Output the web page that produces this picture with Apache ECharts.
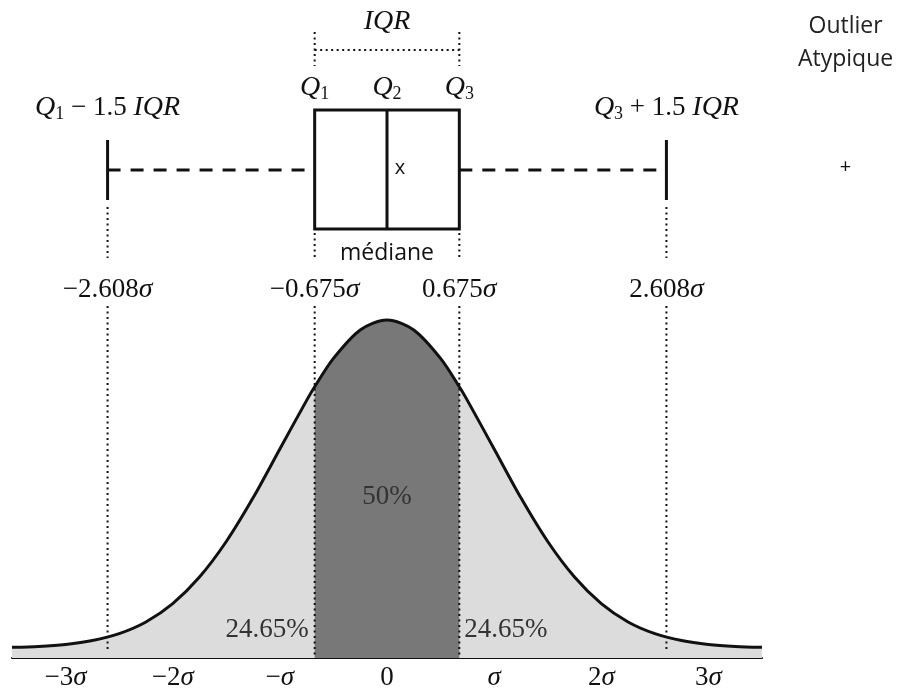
<!DOCTYPE html>
<html><head><meta charset="utf-8">
<script src="https://cdn.jsdelivr.net/npm/echarts@6/dist/echarts.min.js"></script>
<style>html,body{margin:0;padding:0;background:#fff}#c{width:900px;height:691px}</style>
</head><body><div id="c"></div>
<script>
// ---------- data ----------
const sigmaTicks = [-3, -2, -1, 0, 1, 2, 3];
const sigmaTickLabels = ['−3σ', '−2σ', '−σ', '0', 'σ', '2σ', '3σ'];
// lower whisker (Q1-1.5IQR), Q1, median Q2, Q3, upper whisker (Q3+1.5IQR)
const boxStats = [-2.608, -0.675, 0, 0.675, 2.608];
const boxStatLabels = ['−2.608', '−0.675', '0.675', '2.608'];
const meanValue = 0;
const outlierValues = [4.28];
const outlierLabels = ['Outlier', 'Atypique'];
const shareLabels = ['24.65%', '50%', '24.65%'];
// density curve (x in σ, height in density units)
const curveX = [-3.5, -3.25, -3, -2.75, -2.5, -2.25, -2, -1.75, -1.5, -1.25, -1, -0.75, -0.675, -0.5, -0.25, 0,
  0.25, 0.5, 0.675, 0.75, 1, 1.25, 1.5, 1.75, 2, 2.25, 2.5, 2.75, 3, 3.25, 3.5];
const curveY = [0.0009, 0.0020, 0.0044, 0.0091, 0.0175, 0.0317, 0.0540, 0.0863, 0.1295, 0.1826, 0.2420, 0.3011, 0.3176, 0.3521, 0.3867, 0.3989,
  0.3867, 0.3521, 0.3176, 0.3011, 0.2420, 0.1826, 0.1295, 0.0863, 0.0540, 0.0317, 0.0175, 0.0091, 0.0044, 0.0020, 0.0009];

// ---------- build ----------
const curve = curveX.map((x, i) => [x, curveY[i]]);
const centerPart = curve.filter(p => p[0] >= boxStats[1] - 1e-9 && p[0] <= boxStats[3] + 1e-9);

const SERIF = 'Liberation Serif';
const SANS = 'Open Sans';
const INK = '#111';
const FS = 27;
const qRich = {
  i: { fontFamily: SERIF, fontStyle: 'italic', fontSize: FS + 1, lineHeight: 31, fill: INK, color: INK },
  n: { fontFamily: SERIF, fontSize: FS, lineHeight: 31, fill: INK, color: INK },
  sb: { fontFamily: SERIF, fontSize: 18, verticalAlign: 'bottom', fill: INK, color: INK }
};

function txt(x, y, text, extra) {
  return {
    type: 'text', x: x, y: y, z2: 10,
    style: Object.assign({ text: text, fill: INK, align: 'center', verticalAlign: 'middle',
      fontFamily: SERIF, fontSize: FS }, extra || {})
  };
}
function seg(x1, y1, x2, y2, w, dash) {
  return { type: 'line', z2: 5, shape: { x1, y1, x2, y2 },
    style: { stroke: INK, lineWidth: w, lineDash: dash || null, fill: null } };
}

function renderAnnotations(params, api) {
  const px = v => api.coord([v, 0])[0];
  const [lw, q1, q2, q3, uw] = boxStats.map(px);
  const dot = [2, 3.5];
  const els = [];
  // IQR bracket
  els.push(txt((q1 + q3) / 2, 22, '{i|IQR}', { rich: qRich }));
  els.push(seg(q1, 50, q3, 50, 2, dot));
  els.push(seg(q1, 32, q1, 66, 2, dot));
  els.push(seg(q3, 32, q3, 66, 2, dot));
  // quartile labels
  els.push(txt(q1, 88, '{i|Q}{sb|1}', { rich: qRich }));
  els.push(txt(q2, 88, '{i|Q}{sb|2}', { rich: qRich }));
  els.push(txt(q3, 88, '{i|Q}{sb|3}', { rich: qRich }));
  // whisker labels
  els.push(txt(lw, 108, '{i|Q}{sb|1}{n| − 1.5 }{i|IQR}', { rich: qRich }));
  els.push(txt(uw, 108, '{i|Q}{sb|3}{n| + 1.5 }{i|IQR}', { rich: qRich }));
  // box
  els.push({ type: 'rect', z2: 6, shape: { x: q1, y: 110, width: q3 - q1, height: 119 },
    style: { fill: null, stroke: INK, lineWidth: 3 } });
  els.push(seg(q2, 110, q2, 229, 3));
  // mean marker
  els.push(txt(px(meanValue) + 13, 168, 'x', { fontFamily: SANS, fontSize: 20 }));
  // whiskers
  els.push(seg(lw, 170, q1, 170, 3, [13, 10]));
  els.push(seg(q3, 170, uw, 170, 3, [13, 10]));
  els.push(seg(lw, 140, lw, 200, 3));
  els.push(seg(uw, 140, uw, 200, 3));
  // dotted guides below the box plot
  els.push(seg(lw, 207, lw, 258, 2, dot));
  els.push(seg(uw, 207, uw, 258, 2, dot));
  els.push(seg(q1, 233, q1, 258, 2, dot));
  els.push(seg(q3, 233, q3, 258, 2, dot));
  els.push(txt(q2, 253, 'médiane', { fontFamily: SANS, fontSize: 23 }));
  // sigma labels
  [lw, q1, q3, uw].forEach((x, i) => {
    els.push(txt(x, 290, '{n|' + boxStatLabels[i] + '}{i|σ}', { rich: qRich }));
  });
  // dotted guides through the curve
  els.push(seg(lw, 306, lw, 650, 2, dot));
  els.push(seg(uw, 306, uw, 650, 2, dot));
  els.push(seg(q1, 306, q1, 659, 2, dot));
  els.push(seg(q3, 306, q3, 659, 2, dot));
  // area shares
  els.push(txt(q1 - 6, 630, shareLabels[0], { align: 'right', fill: '#333' }));
  els.push(txt(q2, 497, shareLabels[1], { fill: '#333' }));
  els.push(txt(q3 + 5, 630, shareLabels[2], { align: 'left', fill: '#333' }));
  // outliers
  outlierValues.forEach(v => {
    const ox = px(v);
    els.push(txt(ox, 167, '+', { fontFamily: SANS, fontSize: 20 }));
    els.push(txt(ox, 26, outlierLabels[0], { fontFamily: SANS, fontSize: 23, fill: '#222' }));
    els.push(txt(ox, 59, outlierLabels[1], { fontFamily: SANS, fontSize: 23, fill: '#222' }));
  });
  return { type: 'group', children: els };
}

const chart = echarts.init(document.getElementById('c'), null, { renderer: 'canvas' });
chart.setOption({
  animation: false,
  backgroundColor: '#fff',
  grid: [
    { left: 12, right: 138, top: 300, bottom: 32 },
    { left: 12, right: 0, top: 0, bottom: 0 }
  ],
  xAxis: [
    {
      gridIndex: 0, type: 'value', min: -3.5, max: 3.5,
      splitLine: { show: false },
      axisLine: { show: true, onZero: false, lineStyle: { color: INK, width: 2 } },
      axisTick: { show: true, inside: true, length: 8, customValues: sigmaTicks,
        lineStyle: { color: INK, width: 2 } },
      axisLabel: {
        customValues: sigmaTicks, margin: 6,
        formatter: v => {
          const i = sigmaTicks.indexOf(Math.round(v));
          const s = i >= 0 ? sigmaTickLabels[i] : '';
          if (s.endsWith('σ')) return '{n|' + s.slice(0, -1) + '}{i|σ}';
          return '{n|' + s + '}';
        },
        rich: {
          n: { fontFamily: SERIF, fontSize: FS, color: INK },
          i: { fontFamily: SERIF, fontSize: FS, fontStyle: 'italic', color: INK }
        }
      }
    },
    { gridIndex: 1, type: 'value', min: -3.5, max: 4.788, show: false }
  ],
  yAxis: [
    { gridIndex: 0, type: 'value', min: -0.0121, max: 0.4231, show: false, splitLine: { show: false } },
    { gridIndex: 1, type: 'value', min: 0, max: 691, inverse: true, show: false, splitLine: { show: false } }
  ],
  series: [
    { type: 'line', xAxisIndex: 0, yAxisIndex: 0, data: curve, smooth: 0.3, showSymbol: false,
      lineStyle: { width: 0, opacity: 0 }, areaStyle: { color: '#dcdcdc', opacity: 1, origin: 'start' }, z: 1 },
    { type: 'line', xAxisIndex: 0, yAxisIndex: 0, data: centerPart, smooth: 0.3, showSymbol: false,
      lineStyle: { width: 0, opacity: 0 }, areaStyle: { color: '#787878', opacity: 1, origin: 'start' }, z: 2 },
    { type: 'line', xAxisIndex: 0, yAxisIndex: 0, data: curve, smooth: 0.3, showSymbol: false,
      lineStyle: { width: 3, color: INK }, z: 3 },
    { type: 'custom', xAxisIndex: 1, yAxisIndex: 1, data: [[0, 0]], renderItem: renderAnnotations, z: 5,
      silent: true }
  ]
});
</script>
</body></html>
